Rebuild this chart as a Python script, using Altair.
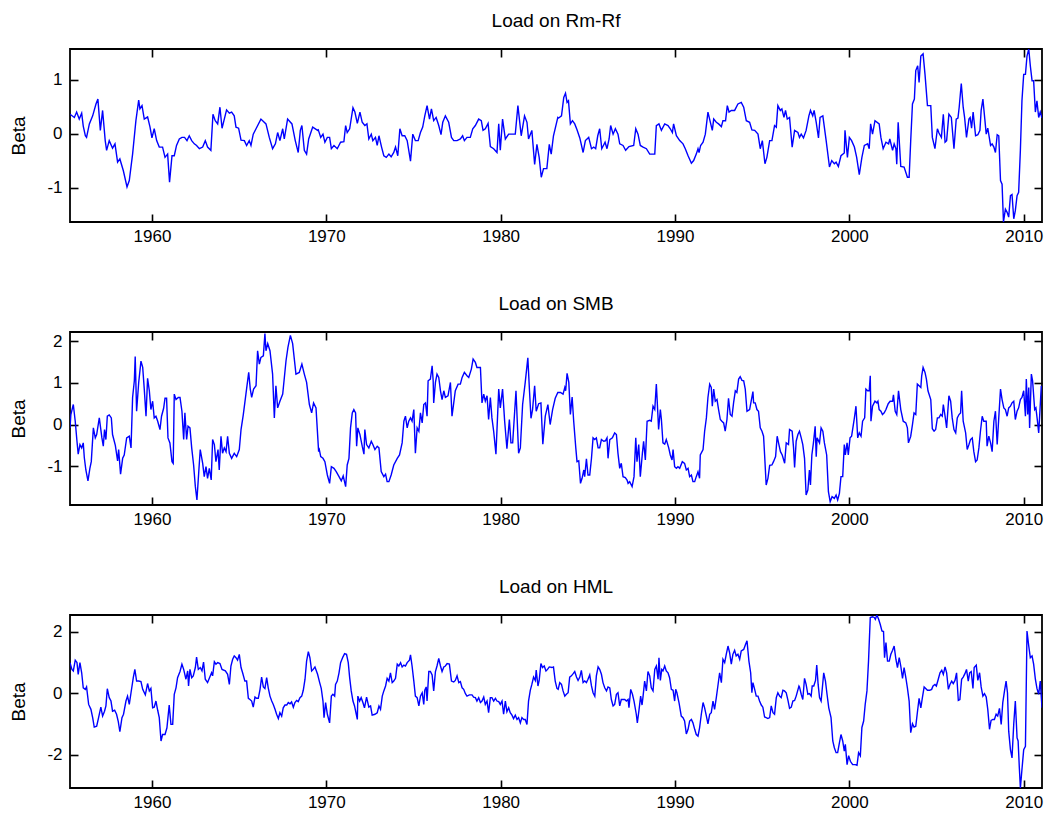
import altair as alt
import pandas as pd

# ---------------- data ----------------
DECADES = [1960, 1970, 1980, 1990, 2000, 2010]
X_DOMAIN = [1955.3, 2011.05]

TITLES = ["Load on Rm-Rf", "Load on SMB", "Load on HML"]
Y_DOMAINS = [[-1.64, 1.57], [-1.93, 2.22], [-3.08, 2.55]]
Y_TICKS = [[-1, 0, 1], [-1, 0, 1, 2], [-2, 0, 2]]

RMRF = [(1955.30,0.36),(1955.55,0.30),(1955.68,0.40),(1955.83,0.27),(1955.97,0.38),(1956.06,0.14),(1956.18,-0.04),(1956.25,-0.07),(1956.41,0.18),(1956.60,0.33),(1956.79,0.55),(1956.90,0.64),(1957.04,0.06),(1957.17,0.43),(1957.32,-0.13),(1957.40,-0.31),(1957.55,-0.13),(1957.74,-0.27),(1957.88,-0.19),(1958.03,-0.53),(1958.16,-0.47),(1958.36,-0.69),(1958.57,-0.99),(1958.70,-0.87),(1958.89,-0.38),(1959.08,0.24),(1959.24,0.62),(1959.31,0.46),(1959.43,0.52),(1959.56,0.27),(1959.75,0.31),(1959.89,0.12),(1960.00,-0.08),(1960.13,0.09),(1960.27,-0.13),(1960.42,-0.25),(1960.61,-0.25),(1960.75,-0.44),(1960.90,-0.38),(1961.01,-0.90),(1961.15,-0.41),(1961.28,-0.41),(1961.41,-0.22),(1961.57,-0.10),(1961.72,-0.07),(1961.87,-0.07),(1962.01,-0.13),(1962.14,-0.04),(1962.28,-0.13),(1962.43,-0.19),(1962.56,-0.22),(1962.72,-0.28),(1962.91,-0.25),(1963.06,-0.13),(1963.19,-0.25),(1963.38,-0.31),(1963.50,0.36),(1963.63,0.24),(1963.77,0.18),(1963.90,0.49),(1964.02,0.10),(1964.15,0.27),(1964.28,0.44),(1964.44,0.38),(1964.57,0.40),(1964.72,0.33),(1964.82,0.12),(1964.97,0.10),(1965.11,-0.12),(1965.30,-0.13),(1965.43,-0.22),(1965.58,-0.13),(1965.68,-0.22),(1965.81,-0.01),(1965.97,0.09),(1966.25,0.27),(1966.54,0.18),(1966.73,-0.07),(1966.92,-0.28),(1967.08,-0.19),(1967.21,0.02),(1967.34,-0.13),(1967.50,0.09),(1967.59,-0.10),(1967.78,0.27),(1968.03,0.18),(1968.22,-0.13),(1968.39,-0.35),(1968.51,0.06),(1968.60,0.15),(1968.74,-0.31),(1968.87,-0.38),(1968.99,-0.10),(1969.22,0.12),(1969.50,0.06),
(1969.54,0.07),(1969.68,-0.07),(1969.81,-0.01),(1969.92,-0.16),(1970.06,-0.07),(1970.19,-0.07),(1970.29,-0.28),(1970.44,-0.22),(1970.63,-0.28),(1970.82,-0.16),(1971.01,-0.15),(1971.11,0.15),(1971.20,0.02),(1971.34,0.09),(1971.53,0.48),(1971.64,0.40),(1971.78,0.19),(1971.93,0.40),(1972.06,0.21),(1972.21,0.15),(1972.33,0.18),(1972.44,-0.10),(1972.58,-0.01),(1972.67,-0.13),(1972.82,-0.07),(1972.92,-0.22),(1973.02,-0.04),(1973.17,-0.25),(1973.30,-0.41),(1973.44,-0.44),(1973.59,-0.38),(1973.72,-0.43),(1973.87,-0.35),(1973.97,-0.25),(1974.10,-0.41),(1974.22,0.09),(1974.35,-0.04),(1974.50,-0.04),(1974.64,-0.13),(1974.83,-0.51),(1974.96,-0.01),(1975.11,-0.13),(1975.27,-0.13),(1975.40,0.02),(1975.53,0.12),(1975.65,0.33),(1975.78,0.52),(1975.92,0.27),(1976.03,0.46),(1976.16,0.24),(1976.30,0.30),(1976.45,0.15),(1976.58,-0.02),(1976.68,0.21),(1976.83,0.33),(1977.02,0.21),(1977.18,-0.07),(1977.31,-0.13),(1977.50,-0.13),(1977.69,-0.10),(1977.82,-0.04),(1977.92,-0.13),(1978.07,-0.07),(1978.26,-0.07),(1978.40,0.09),(1978.55,0.15),(1978.74,0.27),(1978.89,0.24),(1978.99,0.06),(1979.12,0.09),(1979.28,0.19),(1979.41,-0.24),(1979.60,-0.28),(1979.79,-0.35),(1979.89,0.18),(1979.98,-0.31),(1980.11,0.27),(1980.27,-0.10),(1980.46,-0.01),(1980.65,-0.01),(1980.84,-0.01),(1980.99,0.52),(1981.18,-0.04),(1981.37,0.33),(1981.51,0.21),(1981.60,-0.10),(1981.79,0.06),(1981.95,-0.57),(1982.08,-0.20),(1982.21,-0.44),(1982.33,-0.81),(1982.46,-0.65),(1982.65,-0.65),(1982.79,-0.20),(1982.90,-0.38),(1983.03,-0.04),(1983.28,0.30),
(1983.33,0.29),(1983.49,0.33),(1983.62,0.67),(1983.72,0.75),(1983.81,0.58),(1983.89,0.61),(1984.00,0.18),(1984.12,0.24),(1984.25,0.18),(1984.38,0.07),(1984.54,-0.08),(1984.73,-0.35),(1984.86,-0.13),(1985.05,-0.07),(1985.21,-0.28),(1985.34,-0.25),(1985.45,-0.28),(1985.57,-0.04),(1985.68,0.09),(1985.80,-0.28),(1985.99,-0.16),(1986.10,-0.28),(1986.22,-0.10),(1986.31,0.15),(1986.45,-0.01),(1986.58,0.09),(1986.73,-0.01),(1986.83,-0.19),(1987.02,-0.22),(1987.17,-0.31),(1987.36,-0.24),(1987.63,-0.22),(1987.75,0.09),(1987.88,-0.01),(1988.01,-0.22),(1988.17,-0.25),(1988.36,-0.28),(1988.55,-0.38),(1988.84,-0.38),(1988.93,0.15),(1989.08,0.18),(1989.22,0.06),(1989.41,0.18),(1989.60,0.15),(1989.73,0.09),(1989.85,0.02),(1989.92,0.18),(1990.08,-0.04),(1990.27,-0.13),(1990.46,-0.19),(1990.59,-0.28),(1990.75,-0.41),(1990.94,-0.55),(1991.07,-0.50),(1991.22,-0.38),(1991.32,-0.28),(1991.38,-0.35),(1991.47,-0.22),(1991.61,-0.16),(1991.74,-0.01),(1991.89,0.40),(1992.03,0.21),(1992.14,0.06),(1992.22,0.27),(1992.37,0.21),(1992.50,0.18),(1992.66,0.13),(1992.75,0.24),(1992.90,0.24),(1993.00,0.52),(1993.10,0.40),(1993.23,0.43),(1993.42,0.43),(1993.61,0.55),(1993.80,0.58),(1993.94,0.49),(1994.09,0.24),(1994.28,0.21),(1994.41,0.07),(1994.57,0.06),(1994.76,-0.01),(1994.89,-0.28),(1995.01,-0.13),(1995.16,-0.56),(1995.27,-0.44),(1995.43,-0.13),(1995.56,-0.13),(1995.71,0.15),(1995.81,0.12),(1995.90,0.52),(1996.04,0.43),(1996.13,0.46),(1996.25,0.30),(1996.34,0.43),(1996.44,0.27),(1996.57,0.30),(1996.72,-0.25),(1996.86,0.06),(1997.05,0.02),
(1997.14,-0.07),(1997.24,-0.01),(1997.37,-0.08),(1997.52,0.06),(1997.68,0.33),(1997.77,0.43),(1997.90,0.33),(1997.98,0.43),(1998.10,0.21),(1998.23,-0.08),(1998.32,0.30),(1998.48,0.33),(1998.67,-0.13),(1998.86,-0.62),(1998.99,-0.50),(1999.14,-0.56),(1999.24,-0.53),(1999.37,-0.61),(1999.52,-0.41),(1999.71,-0.36),(1999.75,0.06),(1999.89,-0.44),(2000.00,-0.07),(2000.13,-0.13),(2000.29,-0.25),(2000.42,-0.44),(2000.57,-0.76),(2000.72,-0.44),(2000.86,-0.22),(2001.05,-0.19),(2001.14,-0.28),(2001.22,0.18),(2001.33,-0.01),(2001.47,0.24),(2001.71,0.18),(2001.81,-0.07),(2001.94,-0.28),(2002.10,-0.16),(2002.25,-0.19),(2002.32,-0.10),(2002.48,-0.31),(2002.57,-0.19),(2002.67,-0.28),(2002.72,-0.57),(2002.80,0.21),(2002.95,-0.61),(2003.14,-0.62),(2003.33,-0.81),(2003.43,-0.81),(2003.52,-0.13),(2003.62,0.55),(2003.73,0.64),(2003.81,1.17),(2003.92,1.26),(2004.00,0.95),(2004.10,1.44),(2004.23,1.48),(2004.34,1.10),(2004.48,0.52),(2004.67,0.52),(2004.76,-0.07),(2004.91,-0.28),(2005.05,0.09),(2005.14,0.01),(2005.28,-0.07),(2005.39,0.36),(2005.49,-0.16),(2005.58,-0.13),(2005.71,0.36),(2005.85,0.30),(2006.00,-0.28),(2006.13,0.27),(2006.23,0.29),(2006.30,0.49),(2006.42,0.93),(2006.53,0.49),(2006.61,0.30),(2006.72,-0.07),(2006.86,0.27),(2006.93,0.30),(2007.01,0.10),(2007.10,0.40),(2007.24,-0.04),(2007.37,-0.02),(2007.49,0.06),(2007.56,0.43),(2007.66,0.64),(2007.77,0.27),(2007.85,-0.01),(2007.94,0.10),(2008.10,-0.22),(2008.19,-0.19),(2008.29,-0.25),(2008.38,-0.35),(2008.48,-0.02),(2008.57,-0.04),(2008.67,-0.87),(2008.76,-0.94),(2008.84,-1.64),(2008.95,-1.40),(2009.05,-1.46),(2009.14,-1.55),(2009.24,-1.15),(2009.33,-1.13),(2009.43,-1.58),(2009.52,-1.43),(2009.62,-1.15),(2009.71,-1.09),(2009.81,-0.31),(2009.90,0.61),(2010.00,1.10),(2010.10,1.10),(2010.19,1.44),(2010.29,1.57),(2010.38,1.26),(2010.48,0.98),(2010.57,0.98),(2010.67,0.40),(2010.76,0.61),(2010.86,0.30),(2010.95,0.40),(2011.05,0.29)]

SMB = [(1955.30,-0.08),(1955.35,0.24),(1955.49,0.48),(1955.60,0.08),(1955.70,-0.40),(1955.77,-0.71),(1955.87,-0.48),(1955.97,-0.56),(1956.06,-0.44),(1956.12,-0.79),(1956.21,-1.09),(1956.33,-1.35),(1956.44,-1.05),(1956.52,-0.89),(1956.64,-0.08),(1956.75,-0.32),(1956.83,-0.24),(1956.98,0.16),(1957.13,-0.32),(1957.21,-0.52),(1957.28,-0.12),(1957.36,-0.36),(1957.44,0.20),(1957.55,0.23),(1957.67,0.16),(1957.74,-0.24),(1957.90,-0.50),(1958.03,-0.87),(1958.09,-0.60),(1958.20,-1.19),(1958.32,-0.81),(1958.41,-0.73),(1958.55,-0.32),(1958.70,-0.28),(1958.80,-0.56),(1958.89,0.65),(1958.99,1.05),(1959.04,1.63),(1959.12,0.32),(1959.24,1.01),(1959.37,1.52),(1959.47,1.37),(1959.56,0.85),(1959.66,0.20),(1959.75,1.11),(1959.85,0.81),(1959.94,0.36),(1960.04,0.56),(1960.13,0.16),(1960.23,0.20),(1960.33,0.08),(1960.46,-0.12),(1960.55,0.20),(1960.67,0.39),(1960.75,0.63),(1960.84,0.63),(1960.92,-0.32),(1961.03,-0.44),(1961.15,-0.89),(1961.22,-0.93),(1961.28,0.73),(1961.38,0.60),(1961.51,0.65),(1961.61,0.65),(1961.72,0.32),(1961.82,-0.36),(1961.89,0.28),(1961.99,-0.36),(1962.07,-0.04),(1962.18,-0.08),(1962.28,-0.56),(1962.39,-0.97),(1962.49,-1.49),(1962.58,-1.81),(1962.68,-1.17),(1962.77,-0.60),(1962.91,-0.93),(1963.00,-1.25),(1963.10,-1.01),(1963.19,-1.29),(1963.29,-1.05),(1963.40,-1.33),(1963.48,-0.36),(1963.58,-0.48),(1963.67,-0.89),(1963.79,-0.60),(1963.86,-1.09),(1963.96,-0.28),(1964.05,-0.69),(1964.15,-0.56),(1964.25,-0.65),(1964.34,-0.28),(1964.44,-0.69),(1964.57,-0.81),(1964.72,-0.69),(1964.86,-0.77),(1965.01,-0.60),(1965.11,-0.12),(1965.24,0.24),(1965.39,0.73),(1965.55,1.25),(1965.64,0.85),(1965.72,0.65),(1965.83,0.85),(1965.97,0.93),(1966.06,1.77),(1966.16,1.45),(1966.25,1.61),(1966.39,1.65),(1966.48,2.18),(1966.54,1.77),(1966.64,1.94),(1966.77,1.77),(1966.92,1.21),(1967.02,0.16),(1967.11,0.93),(1967.21,0.40),(1967.34,0.56),(1967.50,0.73),(1967.69,1.53),(1967.80,1.85),(1967.94,2.14),(1968.07,1.94),(1968.26,1.21),(1968.45,1.25),(1968.60,1.45),(1968.74,1.21),(1968.87,1.01),(1969.03,0.48),(1969.16,0.28),(1969.27,0.52),(1969.41,0.40),(1969.56,-0.65),
(1969.58,-0.56),(1969.68,-0.77),(1969.81,-0.81),(1969.92,-0.89),(1970.06,-1.21),(1970.19,-1.41),(1970.29,-1.01),(1970.44,-1.05),(1970.57,-1.13),(1970.73,-1.25),(1970.86,-1.35),(1970.97,-1.23),(1971.11,-1.49),(1971.20,-0.97),(1971.30,-0.81),(1971.39,-0.08),(1971.49,0.28),(1971.58,0.36),(1971.68,0.28),(1971.74,-0.52),(1971.81,-0.08),(1971.93,-0.24),(1972.06,-0.52),(1972.16,-0.71),(1972.21,-0.12),(1972.31,-0.48),(1972.44,-0.56),(1972.58,-0.40),(1972.67,-0.48),(1972.79,-0.60),(1972.92,-0.52),(1973.02,-0.56),(1973.15,-1.13),(1973.30,-1.25),(1973.40,-1.19),(1973.49,-1.37),(1973.59,-1.37),(1973.72,-1.21),(1973.87,-0.97),(1974.07,-0.81),(1974.20,-0.73),(1974.35,-0.44),(1974.45,0.08),(1974.54,0.20),(1974.64,-0.08),(1974.73,0.08),(1974.83,0.16),(1974.92,0.08),(1975.02,0.36),(1975.11,-0.69),(1975.21,-0.08),(1975.31,-0.16),(1975.40,0.28),(1975.50,0.04),(1975.59,0.48),(1975.69,0.52),(1975.78,0.20),(1975.84,1.05),(1975.97,1.09),(1976.07,1.41),(1976.13,1.05),(1976.16,0.52),(1976.26,1.01),(1976.35,1.21),(1976.45,1.13),(1976.55,0.81),(1976.64,0.60),(1976.74,0.81),(1976.83,0.65),(1976.98,0.69),(1977.12,1.01),(1977.21,0.20),(1977.31,0.52),(1977.40,0.81),(1977.56,0.97),(1977.69,0.97),(1977.79,1.13),(1977.92,1.25),(1978.07,1.17),(1978.17,1.13),(1978.32,1.33),(1978.42,1.57),(1978.55,1.49),(1978.64,1.37),(1978.84,1.37),(1978.93,0.52),(1979.03,0.73),(1979.12,0.56),(1979.22,0.69),(1979.31,0.12),(1979.41,0.65),(1979.50,0.16),(1979.60,-0.16),(1979.73,-0.71),(1979.89,0.85),(1979.98,0.40),(1980.11,0.85),(1980.23,0.08),(1980.36,-0.58),(1980.50,0.12),(1980.59,-0.44),(1980.69,-0.44),(1980.88,0.81),(1981.03,-0.69),(1981.13,-0.56),(1981.26,0.48),(1981.41,1.01),(1981.56,1.60),(1981.66,0.77),(1981.74,0.15),(1981.83,0.36),(1981.95,0.93),(1982.04,0.32),(1982.18,0.50),(1982.31,0.52),(1982.42,-0.47),(1982.56,0.20),(1982.71,0.48),(1982.84,0.00),(1982.98,0.36),(1983.13,0.63),(1983.28,0.77),
(1983.43,0.77),(1983.58,0.73),(1983.68,0.89),(1983.73,0.81),(1983.81,1.23),(1983.91,1.01),(1984.00,0.24),(1984.10,0.66),(1984.19,0.08),(1984.31,-0.56),(1984.38,-0.89),(1984.48,-0.87),(1984.58,-1.41),(1984.67,-1.29),(1984.77,-1.09),(1984.82,-1.25),(1984.92,-0.82),(1985.01,-1.21),(1985.11,-1.21),(1985.21,-0.81),(1985.30,-0.32),(1985.40,-0.36),(1985.49,-0.32),(1985.59,-0.56),(1985.68,-0.56),(1985.78,-0.36),(1985.91,-0.40),(1986.01,-0.39),(1986.10,-0.32),(1986.16,-0.81),(1986.26,-0.36),(1986.41,-0.32),(1986.54,-0.20),(1986.64,-0.24),(1986.73,-0.69),(1986.83,-1.05),(1986.92,-0.93),(1987.02,-1.25),(1987.15,-1.27),(1987.25,-1.33),(1987.31,-1.41),(1987.40,-1.37),(1987.54,-1.49),(1987.65,-1.25),(1987.75,-0.32),(1987.82,-0.89),(1987.92,-0.48),(1988.01,-1.25),(1988.13,-0.69),(1988.20,-0.40),(1988.30,-0.85),(1988.40,0.08),(1988.55,0.10),(1988.64,0.08),(1988.74,0.44),(1988.84,0.36),(1988.93,0.97),(1988.99,0.48),(1989.06,-0.12),(1989.16,0.36),(1989.22,0.12),(1989.31,-0.44),(1989.41,-0.47),(1989.50,-0.36),(1989.64,-0.56),(1989.73,-0.73),(1989.83,-0.85),(1989.89,-0.60),(1989.98,-1.01),(1990.08,-1.05),(1990.17,-1.01),(1990.27,-1.05),(1990.42,-0.89),(1990.55,-0.93),(1990.65,-1.09),(1990.75,-1.05),(1990.84,-1.25),(1990.94,-1.21),(1991.03,-1.37),(1991.13,-1.37),(1991.22,-1.25),(1991.32,-1.13),(1991.41,-1.29),(1991.45,-0.73),(1991.61,-0.60),(1991.70,-0.16),(1991.80,0.16),(1991.89,0.65),(1991.99,0.97),(1992.08,0.89),(1992.14,0.44),(1992.22,0.85),(1992.31,0.56),(1992.41,0.60),(1992.50,0.36),(1992.60,0.12),(1992.69,0.08),(1992.79,0.04),(1992.88,-0.16),(1992.98,0.12),(1993.07,0.63),(1993.17,0.24),(1993.27,0.20),(1993.36,0.52),(1993.46,0.81),(1993.55,0.77),(1993.65,1.09),(1993.74,1.15),(1993.84,1.06),(1993.94,1.05),(1994.03,0.85),(1994.13,0.32),(1994.28,0.36),(1994.37,0.56),(1994.47,0.79),(1994.51,0.52),(1994.60,0.52),(1994.70,0.36),(1994.79,0.32),(1994.89,-0.08),(1994.99,-0.16),(1995.08,-0.28),(1995.14,-0.73),(1995.23,-1.45),(1995.33,-1.29),(1995.43,-0.98),(1995.56,-0.97),(1995.65,-0.89),(1995.77,-0.77),(1995.86,-0.28),(1995.96,-0.48),(1996.05,-0.65),(1996.15,-0.73),
(1996.29,-0.93),(1996.38,-0.44),(1996.51,-0.48),(1996.57,-0.12),(1996.72,-0.16),(1996.80,-0.56),(1996.86,-1.03),(1996.95,-0.40),(1997.05,-0.24),(1997.14,-0.16),(1997.24,-0.32),(1997.33,-0.48),(1997.43,-0.81),(1997.52,-1.69),(1997.62,-1.57),(1997.71,-1.09),(1997.77,-1.45),(1997.85,-0.73),(1997.94,-0.44),(1998.04,-0.04),(1998.10,-0.77),(1998.15,-0.32),(1998.29,-0.44),(1998.38,-0.08),(1998.48,-0.16),(1998.57,-0.44),(1998.70,-0.73),(1998.80,-1.61),(1998.90,-1.85),(1999.01,-1.73),(1999.14,-1.77),(1999.24,-1.69),(1999.33,-1.81),(1999.43,-1.65),(1999.52,-1.25),(1999.62,-1.25),(1999.71,-0.48),(1999.77,-0.73),(1999.87,-0.44),(1999.94,-0.73),(2000.04,-0.32),(2000.13,-0.28),(2000.29,0.16),(2000.38,0.44),(2000.48,-0.32),(2000.57,-0.20),(2000.67,-0.28),(2000.76,0.08),(2000.88,0.16),(2000.95,0.85),(2001.05,0.81),(2001.14,0.81),(2001.20,1.17),(2001.24,0.08),(2001.33,0.44),(2001.47,0.56),(2001.58,0.52),(2001.64,0.56),(2001.71,0.36),(2001.81,0.32),(2001.90,0.24),(2002.00,0.28),(2002.10,0.36),(2002.23,0.50),(2002.34,0.56),(2002.48,0.56),(2002.53,0.71),(2002.63,0.32),(2002.72,0.24),(2002.82,0.81),(2002.95,0.36),(2003.09,0.08),(2003.24,0.04),(2003.33,-0.08),(2003.39,-0.44),(2003.52,-0.28),(2003.62,0.00),(2003.71,0.28),(2003.81,0.24),(2003.90,0.97),(2004.00,0.93),(2004.10,0.89),(2004.15,1.17),(2004.23,1.37),(2004.34,1.25),(2004.42,1.09),(2004.51,0.81),(2004.67,0.60),(2004.76,-0.10),(2004.86,-0.16),(2004.95,-0.12),(2005.05,0.16),(2005.14,0.16),(2005.24,0.24),(2005.33,0.20),(2005.39,0.48),(2005.49,0.20),(2005.58,-0.08),(2005.71,0.69),(2005.81,0.56),(2005.90,0.16),(2006.00,-0.12),(2006.10,-0.20),(2006.19,0.16),(2006.29,0.24),(2006.38,0.28),(2006.44,0.81),(2006.53,0.08),(2006.67,-0.20),(2006.76,-0.60),(2006.86,-0.48),(2006.95,-0.36),(2007.05,-0.32),(2007.14,-0.65),(2007.24,-0.89),(2007.33,-0.85),(2007.43,-0.56),(2007.52,-0.16),(2007.62,0.20),(2007.71,0.08),(2007.85,0.08),(2007.90,-0.52),(2008.00,-0.28),(2008.10,-0.44),(2008.19,-0.65),(2008.29,0.08),(2008.38,0.32),(2008.48,-0.48),(2008.57,0.16),(2008.67,0.85),(2008.76,0.60),(2008.86,0.40),(2008.95,0.36),(2009.05,0.20),(2009.14,0.40),(2009.24,0.44),(2009.33,0.52),(2009.43,0.56),(2009.52,0.12),(2009.62,0.32),(2009.71,0.40),(2009.81,0.60),(2009.90,0.65),(2010.00,0.81),(2010.10,0.20),(2010.15,1.09),(2010.23,0.24),(2010.29,0.89),(2010.34,-0.08),(2010.44,1.21),(2010.51,1.05),(2010.63,0.36),(2010.70,0.40),(2010.78,0.12),(2010.86,-0.20),(2010.91,0.16),(2011.01,0.93)]

HML = [(1955.30,1.00),(1955.41,0.78),(1955.49,0.73),(1955.60,1.08),(1955.70,1.00),(1955.77,0.62),(1955.87,1.00),(1955.97,0.67),(1956.06,0.18),(1956.18,0.13),(1956.25,0.21),(1956.37,-0.36),(1956.50,-0.52),(1956.60,-0.79),(1956.69,-1.10),(1956.83,-1.07),(1956.94,-0.79),(1957.07,-0.45),(1957.17,-0.74),(1957.28,-0.58),(1957.36,-0.41),(1957.44,0.15),(1957.55,-0.14),(1957.65,-0.25),(1957.74,-0.58),(1957.86,-0.55),(1957.97,-0.68),(1958.07,-0.92),(1958.16,-1.25),(1958.28,-0.79),(1958.37,-0.68),(1958.51,-0.25),(1958.60,-0.09),(1958.70,-0.36),(1958.80,0.02),(1958.93,0.51),(1959.02,0.78),(1959.12,0.40),(1959.24,0.40),(1959.37,0.38),(1959.47,0.13),(1959.62,-0.05),(1959.75,0.32),(1959.85,0.08),(1959.94,0.16),(1960.04,-0.47),(1960.13,-0.45),(1960.23,-0.25),(1960.33,-0.55),(1960.42,-0.79),(1960.52,-1.55),(1960.61,-1.34),(1960.75,-1.34),(1960.86,-1.12),(1960.99,-0.38),(1961.09,-1.01),(1961.19,-1.01),(1961.28,-0.03),(1961.38,0.18),(1961.47,0.51),(1961.61,0.71),(1961.72,0.95),(1961.82,0.78),(1961.95,0.46),(1962.05,0.73),(1962.10,0.24),(1962.18,0.78),(1962.28,0.51),(1962.37,0.57),(1962.49,0.84),(1962.56,1.18),(1962.66,0.78),(1962.77,0.84),(1962.87,0.73),(1962.96,1.02),(1963.06,0.46),(1963.19,0.35),(1963.35,0.57),(1963.42,0.67),(1963.48,0.57),(1963.58,1.03),(1963.67,0.95),(1963.77,1.00),(1963.90,0.97),(1964.02,0.78),(1964.21,0.73),(1964.34,0.62),(1964.44,0.29),(1964.53,0.89),(1964.63,1.11),(1964.72,1.22),(1964.82,1.16),(1964.91,1.08),(1965.01,1.27),(1965.11,0.84),(1965.20,0.67),(1965.33,0.40),(1965.43,0.40),(1965.53,-0.16),(1965.62,-0.20),(1965.72,-0.25),(1965.81,-0.45),(1965.91,-0.12),(1966.00,-0.16),(1966.10,-0.16),(1966.20,0.13),(1966.29,0.53),(1966.39,0.21),(1966.48,0.16),(1966.58,0.51),(1966.67,0.18),(1966.77,-0.09),(1966.87,-0.25),(1966.96,-0.36),(1967.06,-0.52),(1967.15,-0.68),(1967.25,-0.82),(1967.34,-0.63),(1967.44,-0.74),(1967.53,-0.47),(1967.63,-0.38),(1967.73,-0.38),(1967.82,-0.30),(1967.92,-0.34),(1968.01,-0.28),(1968.11,-0.45),(1968.20,-0.30),(1968.30,-0.23),(1968.39,-0.27),(1968.49,-0.14),(1968.59,-0.09),(1968.68,0.10),(1968.78,0.46),(1968.87,1.05),(1968.97,1.36),(1969.06,1.16),(1969.16,0.73),(1969.25,0.78),(1969.35,0.86),(1969.50,0.62),
(1969.62,0.35),(1969.71,0.16),(1969.81,-0.25),(1969.87,-0.79),(1969.96,-0.30),(1970.06,-0.68),(1970.19,-0.96),(1970.29,-0.09),(1970.38,-0.03),(1970.48,-0.09),(1970.53,0.29),(1970.63,0.40),(1970.73,0.67),(1970.82,1.00),(1970.95,1.18),(1971.05,1.29),(1971.16,1.27),(1971.26,1.00),(1971.34,0.51),(1971.43,0.08),(1971.53,-0.25),(1971.62,-0.41),(1971.72,-0.68),(1971.78,-0.85),(1971.81,-0.09),(1971.91,-0.25),(1972.00,-0.14),(1972.10,-0.30),(1972.19,-0.47),(1972.31,-0.12),(1972.44,-0.45),(1972.54,-0.41),(1972.63,-0.71),(1972.79,-0.68),(1972.92,-0.63),(1973.02,-0.41),(1973.11,-0.52),(1973.21,-0.09),(1973.30,0.08),(1973.40,0.24),(1973.49,0.49),(1973.59,0.40),(1973.68,0.67),(1973.78,0.35),(1973.87,0.40),(1973.97,0.49),(1974.07,0.95),(1974.16,0.89),(1974.26,1.00),(1974.35,0.86),(1974.45,0.92),(1974.54,0.89),(1974.64,1.00),(1974.77,1.08),(1974.83,1.25),(1974.92,0.89),(1975.02,0.40),(1975.11,-0.09),(1975.21,-0.14),(1975.31,-0.41),(1975.40,-0.09),(1975.50,0.02),(1975.59,-0.36),(1975.65,0.10),(1975.73,0.21),(1975.78,-0.25),(1975.88,0.71),(1975.97,0.71),(1976.07,0.60),(1976.16,0.08),(1976.26,0.71),(1976.35,0.89),(1976.45,1.14),(1976.55,0.89),(1976.64,0.71),(1976.74,0.86),(1976.83,0.89),(1976.93,0.97),(1977.06,0.95),(1977.18,0.40),(1977.31,0.37),(1977.40,0.42),(1977.50,0.57),(1977.60,0.35),(1977.69,0.38),(1977.79,0.18),(1977.88,0.13),(1977.98,-0.01),(1978.07,-0.09),(1978.21,-0.05),(1978.36,-0.05),(1978.45,-0.12),(1978.55,-0.14),(1978.64,-0.25),(1978.74,-0.14),(1978.84,-0.30),(1978.93,-0.25),(1979.03,-0.12),(1979.12,-0.36),(1979.22,-0.25),(1979.31,-0.63),(1979.41,-0.14),(1979.50,-0.14),(1979.60,-0.25),(1979.70,-0.16),(1979.79,-0.25),(1979.89,-0.27),(1979.98,-0.36),(1980.08,-0.25),(1980.17,-0.68),(1980.27,-0.25),(1980.36,-0.60),(1980.46,-0.47),(1980.55,-0.63),(1980.65,-0.71),(1980.74,-0.82),(1980.84,-0.71),(1980.94,-0.85),(1981.03,-0.79),(1981.13,-0.96),(1981.22,-0.79),(1981.32,-0.85),(1981.41,-0.85),(1981.51,-1.01),(1981.60,-0.25),(1981.70,0.10),(1981.79,0.29),(1981.89,0.53),(1981.99,0.42),(1982.04,0.76),(1982.14,0.24),(1982.21,0.42),(1982.31,0.97),(1982.40,0.84),(1982.50,0.89),(1982.60,0.73),(1982.69,0.78),(1982.79,0.86),(1982.94,0.84),(1983.03,0.86),(1983.13,0.40),(1983.23,0.16),
(1983.30,0.13),(1983.39,0.35),(1983.49,0.29),(1983.58,0.08),(1983.68,-0.09),(1983.77,-0.03),(1983.87,0.02),(1983.96,0.53),(1984.06,0.57),(1984.16,0.64),(1984.25,0.71),(1984.35,0.53),(1984.44,0.42),(1984.54,0.53),(1984.63,0.75),(1984.73,0.35),(1984.82,0.40),(1984.92,0.35),(1985.01,0.46),(1985.11,0.60),(1985.21,0.24),(1985.30,0.02),(1985.40,-0.09),(1985.49,0.57),(1985.59,0.86),(1985.68,0.78),(1985.78,0.62),(1985.87,0.35),(1985.97,0.18),(1986.07,0.08),(1986.16,0.21),(1986.26,0.18),(1986.35,-0.20),(1986.45,-0.41),(1986.54,-0.36),(1986.64,-0.03),(1986.73,0.02),(1986.83,-0.41),(1986.92,-0.20),(1987.02,-0.20),(1987.12,-0.20),(1987.21,-0.25),(1987.31,-0.20),(1987.36,-0.47),(1987.46,0.13),(1987.56,-0.03),(1987.65,-0.25),(1987.78,-0.68),(1987.84,-0.96),(1987.94,-0.52),(1988.03,-0.09),(1988.11,-0.38),(1988.17,-0.09),(1988.26,0.40),(1988.36,0.08),(1988.45,0.71),(1988.55,0.57),(1988.64,0.18),(1988.74,0.08),(1988.84,0.78),(1988.93,0.89),(1989.03,0.46),(1989.08,1.16),(1989.16,0.42),(1989.24,0.78),(1989.31,0.73),(1989.41,0.89),(1989.50,0.73),(1989.60,0.67),(1989.69,0.51),(1989.79,0.13),(1989.89,0.10),(1989.98,-0.25),(1990.04,0.13),(1990.11,0.02),(1990.23,-0.30),(1990.36,-0.74),(1990.46,-0.79),(1990.55,-0.90),(1990.65,-1.32),(1990.75,-1.17),(1990.84,-0.90),(1990.94,-0.85),(1991.03,-0.96),(1991.13,-1.17),(1991.22,-1.34),(1991.32,-1.39),(1991.41,-1.12),(1991.51,-0.68),(1991.61,-0.30),(1991.70,-0.47),(1991.80,-0.74),(1991.89,-0.99),(1991.99,-0.68),(1992.08,-0.63),(1992.18,-0.25),(1992.27,-0.52),(1992.37,-0.14),(1992.46,0.24),(1992.56,0.67),(1992.66,0.35),(1992.75,1.11),(1992.85,1.00),(1992.94,1.27),(1993.04,1.54),(1993.13,1.33),(1993.23,0.95),(1993.32,1.27),(1993.42,1.40),(1993.51,1.22),(1993.61,1.27),(1993.71,1.11),(1993.80,1.38),(1993.94,1.43),(1994.05,1.60),(1994.13,1.71),(1994.24,1.05),(1994.34,0.67),(1994.41,0.02),(1994.47,0.35),(1994.57,0.13),(1994.66,-0.09),(1994.76,-0.09),(1994.85,-0.25),(1994.95,-0.38),(1995.04,-0.45),(1995.14,-0.77),(1995.23,-0.79),(1995.33,-0.82),(1995.43,-0.79),(1995.52,-0.41),(1995.62,-0.63),(1995.71,-0.68),(1995.81,-0.14),(1995.90,0.02),(1996.00,-0.09),(1996.09,-0.14),(1996.19,0.10),(1996.28,0.08),(1996.38,0.02),(1996.48,-0.23),(1996.57,-0.49),(1996.67,-0.45),(1996.76,-0.25),(1996.86,-0.23),(1996.95,-0.09),(1997.11,0.24),
(1997.14,0.21),(1997.24,-0.03),(1997.33,-0.20),(1997.43,0.49),(1997.52,0.29),(1997.62,-0.03),(1997.71,-0.01),(1997.81,-0.09),(1997.87,0.24),(1997.96,0.24),(1998.06,0.42),(1998.13,0.92),(1998.21,0.29),(1998.29,-0.14),(1998.38,-0.25),(1998.48,0.35),(1998.53,0.67),(1998.63,0.40),(1998.72,-0.03),(1998.82,-0.47),(1998.95,-0.79),(1999.05,-1.55),(1999.14,-1.77),(1999.24,-1.93),(1999.33,-1.93),(1999.43,-1.61),(1999.52,-1.34),(1999.62,-1.55),(1999.71,-1.88),(1999.77,-1.66),(1999.87,-2.32),(1999.96,-2.03),(2000.06,-2.21),(2000.19,-2.32),(2000.34,-2.32),(2000.44,-2.34),(2000.53,-1.93),(2000.63,-2.03),(2000.72,-1.11),(2000.82,-0.90),(2000.91,-0.36),(2001.01,0.08),(2001.10,1.05),(2001.20,2.47),(2001.33,2.49),(2001.43,2.47),(2001.49,2.41),(2001.58,2.55),(2001.68,2.41),(2001.77,2.25),(2001.87,2.03),(2001.96,2.01),(2002.02,1.16),(2002.10,1.65),(2002.19,1.05),(2002.29,1.05),(2002.38,1.27),(2002.48,1.40),(2002.57,1.54),(2002.67,1.11),(2002.76,0.84),(2002.86,1.16),(2002.95,0.89),(2003.05,0.49),(2003.14,0.84),(2003.24,0.51),(2003.33,0.18),(2003.43,-0.25),(2003.52,-1.28),(2003.62,-0.99),(2003.71,-1.10),(2003.81,-1.07),(2003.90,-0.63),(2004.00,-0.16),(2004.10,-0.47),(2004.19,-0.14),(2004.29,0.21),(2004.38,0.16),(2004.48,0.10),(2004.61,0.10),(2004.72,0.13),(2004.80,0.24),(2004.91,0.29),(2004.99,0.24),(2005.10,0.46),(2005.20,0.67),(2005.30,0.75),(2005.39,0.62),(2005.49,0.86),(2005.58,0.67),(2005.68,0.13),(2005.77,0.29),(2005.87,0.40),(2005.96,0.32),(2006.06,0.42),(2006.15,0.67),(2006.25,-0.23),(2006.34,-0.20),(2006.44,0.46),(2006.53,0.53),(2006.63,0.64),(2006.72,0.78),(2006.82,0.40),(2006.90,0.67),(2006.99,0.71),(2007.09,0.16),(2007.16,0.84),(2007.28,0.92),(2007.37,0.42),(2007.47,0.67),(2007.56,0.21),(2007.66,-0.09),(2007.75,-0.01),(2007.85,-0.12),(2007.94,-0.52),(2008.04,-1.17),(2008.13,-0.88),(2008.23,-0.85),(2008.32,-0.85),(2008.42,-0.68),(2008.51,-0.74),(2008.61,-0.49),(2008.71,-1.01),(2008.80,-0.30),(2008.90,0.08),(2008.99,0.40),(2009.07,0.02),(2009.14,-1.23),(2009.24,-1.83),(2009.33,-2.10),(2009.43,-0.99),(2009.52,-0.25),(2009.62,-1.45),(2009.68,-1.55),(2009.75,-2.42),(2009.81,-3.08),(2009.90,-2.48),(2010.00,-1.83),(2010.10,-1.72),(2010.19,2.03),(2010.29,1.54),(2010.38,1.16),(2010.48,1.22),(2010.57,0.95),(2010.67,0.46),(2010.76,0.16),(2010.86,-0.03),(2010.95,0.40),(2011.05,-0.47)]

SERIES = [RMRF, SMB, HML]

# ---------------- chart ----------------
FONT = "Liberation Sans"
W, H = 972, 173
TICK = 8
LABEL_EXPR = "'' + datum.value"


def panel(points, title, ydom, yticks):
    df = pd.DataFrame(points, columns=["year", "beta"])
    xs = alt.Scale(domain=X_DOMAIN, nice=False, zero=False)
    ys = alt.Scale(domain=ydom, nice=False, zero=False)
    line = alt.Chart(df).mark_line(color="#0000ff", strokeWidth=1.4, clip=True).encode(
        x=alt.X("year:Q", scale=xs,
                axis=alt.Axis(orient="bottom", values=DECADES, title=None,
                              labelExpr=LABEL_EXPR, labelPadding=6)),
        y=alt.Y("beta:Q", scale=ys,
                axis=alt.Axis(orient="left", values=yticks, title="Beta",
                              labelExpr=LABEL_EXPR, labelPadding=8, titlePadding=18)),
    )
    mirror = alt.Chart(df).mark_line(opacity=0, clip=True).encode(
        x=alt.X("year:Q", scale=xs,
                axis=alt.Axis(orient="top", values=DECADES, labels=False, title=None)),
        y=alt.Y("beta:Q", scale=ys,
                axis=alt.Axis(orient="right", values=yticks, labels=False, title=None)),
    )
    return (
        alt.layer(line, mirror)
        .resolve_scale(x="independent", y="independent")
        .resolve_axis(x="independent", y="independent")
        .properties(
            width=W, height=H,
            title=alt.TitleParams(title, font=FONT, fontSize=19, fontWeight="normal",
                                  color="black", anchor="middle", offset=17),
        )
    )


panels = [panel(SERIES[i], TITLES[i], Y_DOMAINS[i], Y_TICKS[i]) for i in range(3)]

chart = (
    alt.vconcat(*panels, spacing=49)
    .properties(padding={"left": 8, "top": 11, "right": 5, "bottom": 5}, background="white")
    .configure_view(stroke="black", strokeWidth=1.8)
    .configure_axis(
        labelFont=FONT, labelFontSize=17, labelColor="black",
        titleFont=FONT, titleFontSize=19, titleFontWeight="normal", titleColor="black",
        tickColor="black", tickSize=TICK, tickWidth=1.6, offset=-TICK,
        domain=False, grid=False,
    )
)

chart.save("out.html", embed_options={"renderer": "svg", "actions": False})
